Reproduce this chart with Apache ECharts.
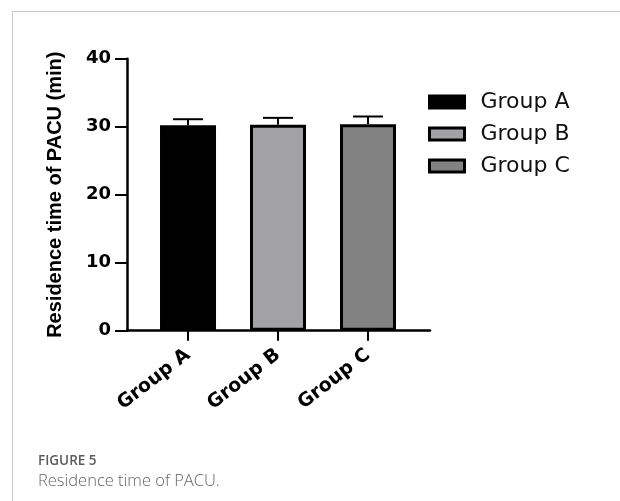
<!DOCTYPE html>
<html>
<head>
<meta charset="utf-8">
<script src="https://cdn.jsdelivr.net/npm/echarts@6/dist/echarts.min.js"></script>
<style>
  html, body { margin: 0; padding: 0; background: #fff; }
  #frame { position: absolute; left: 12px; top: 11px; right: 0; bottom: 0;
           border-left: 1.5px solid #c9c9c9; border-top: 1.5px solid #c9c9c9; }
  #chart { position: absolute; left: 0; top: 0; width: 620px; height: 501px; }
</style>
</head>
<body>
<div id="frame"></div>
<div id="chart"></div>
<script>
// Groups and their PACU residence times (mean and SD, minutes)
const groups = ['Group A', 'Group B', 'Group C'];
const means = [30.2, 30.3, 30.35];
const sds = [0.9, 1.0, 1.15];
const fills = ['#000000', '#a2a2a4', '#828282'];
const yTicks = [0, 10, 20, 30, 40];

const positions = groups.map((g, i) => i + 1);

const barSeries = groups.map((name, i) => ({
  name: name,
  type: 'bar',
  barWidth: 56,
  barGap: '-100%',
  data: [[positions[i], means[i]]],
  itemStyle: { color: fills[i], borderColor: '#000', borderWidth: 3 },
  emphasis: { disabled: true },
  z: 2
}));

const errorSeries = {
  type: 'custom',
  data: groups.map((g, i) => [positions[i], means[i], sds[i]]),
  renderItem: function (params, api) {
    const x = api.value(0), m = api.value(1), s = api.value(2);
    const base = api.coord([x, m]);
    const top = api.coord([x, m + s]);
    const half = 15;
    return {
      type: 'group',
      children: [
        { type: 'line', shape: { x1: base[0], y1: base[1], x2: top[0], y2: top[1] },
          style: { stroke: '#000', lineWidth: 2 } },
        { type: 'line', shape: { x1: top[0] - half, y1: top[1], x2: top[0] + half, y2: top[1] },
          style: { stroke: '#000', lineWidth: 2 } }
      ]
    };
  },
  z: 1
};

const chart = echarts.init(document.getElementById('chart'), null, { renderer: 'canvas' });
chart.setOption({
  animation: false,
  backgroundColor: 'transparent',
  title: {
    text: 'FIGURE 5',
    subtext: 'Residence time of PACU.',
    left: 38,
    top: 454,
    padding: 0,
    itemGap: 5,
    textStyle: { fontFamily: 'Open Sans', fontSize: 13.5, fontWeight: 600, color: '#5a5a5a' },
    subtextStyle: { fontFamily: 'Open Sans', fontSize: 16.5, fontWeight: 300, color: '#666' }
  },
  legend: {
    orient: 'vertical',
    left: 423,
    top: 86,
    itemWidth: 35,
    itemHeight: 12,
    itemGap: 10,
    icon: 'rect',
    selectedMode: false,
    data: groups,
    itemStyle: { borderColor: '#000', borderWidth: 3 },
    textStyle: { fontFamily: 'DejaVu Sans', fontSize: 22, color: '#111', padding: [0, 0, 0, 11] }
  },
  grid: { left: 127, right: 190, top: 58.7, bottom: 170.3 },
  xAxis: {
    type: 'value',
    min: 0.322,
    max: 3.689,
    splitLine: { show: false },
    axisLine: { show: true, onZero: false, lineStyle: { color: '#000', width: 2.5 } },
    axisTick: { show: true, length: 10, customValues: positions, lineStyle: { color: '#000', width: 2 } },
    axisLabel: {
      customValues: positions,
      rotate: 38,
      margin: 22,
      fontFamily: 'DejaVu Sans',
      fontWeight: 'bold',
      fontSize: 19,
      color: '#000',
      padding: [0, 0, 0, 0],
      formatter: v => groups[Math.round(v) - 1] || ''
    }
  },
  yAxis: {
    type: 'value',
    min: 0,
    max: 40,
    interval: 10,
    name: 'Residence time of PACU (min)',
    nameLocation: 'middle',
    nameGap: 62,
    nameTextStyle: { fontFamily: 'Liberation Sans', fontWeight: 'bold', fontSize: 20, color: '#000' },
    splitLine: { show: false },
    axisLine: { show: true, lineStyle: { color: '#000', width: 2.5 } },
    axisTick: { show: true, length: 12, lineStyle: { color: '#000', width: 2 } },
    axisLabel: {
      margin: 16,
      fontFamily: 'DejaVu Sans',
      fontWeight: 'bold',
      fontSize: 18,
      color: '#000',
      customValues: yTicks
    }
  },
  series: [...barSeries, errorSeries]
});
</script>
</body>
</html>
